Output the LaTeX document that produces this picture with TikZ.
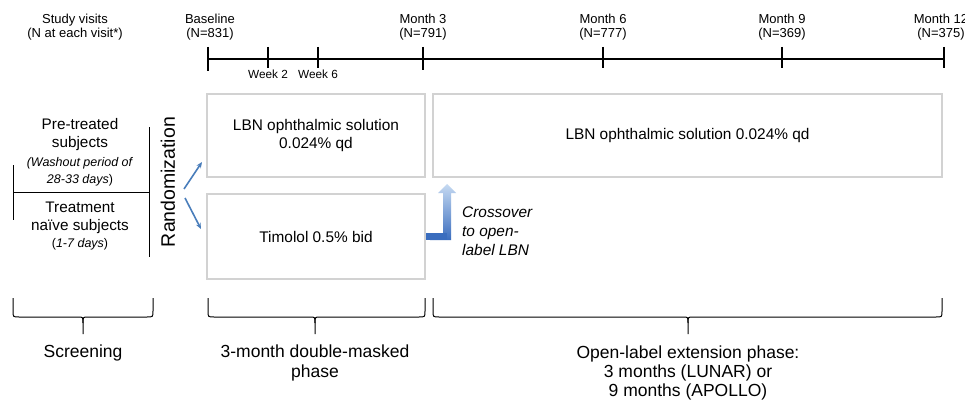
\documentclass[tikz,border=0pt]{standalone}
\usepackage{fontspec}
\setmainfont{Liberation Sans}
\usetikzlibrary{arrows.meta,calc}
\definecolor{boxgray}{HTML}{D2D2D2}
\definecolor{arrowblue}{HTML}{4A7EBB}
\definecolor{xlight}{HTML}{C6DAF2}
\definecolor{xdark}{HTML}{3A6DBE}
\newcommand{\phasebrace}[3]{%
  \draw[bracestyle] (#1,298) -- (#1,311) .. controls (#1,317) .. (#1+6,317) -- (#2-5,317) .. controls (#2,317) .. (#2,323) -- (#2,334);
  \draw[bracestyle] (#3,298) -- (#3,311) .. controls (#3,317) .. (#3-6,317) -- (#2+5,317) .. controls (#2,317) .. (#2,323);
}
\begin{document}
\begin{tikzpicture}[x=1pt,y=-1pt,
  tl/.style={font=\fontsize{13}{14.5}\selectfont,align=center,inner sep=0pt},
  wk/.style={font=\fontsize{11.8}{13}\selectfont,inner sep=0pt},
  armbox/.style={draw=boxgray,line width=2pt,inner sep=0pt,align=center,
    font=\fontsize{15.4}{18}\selectfont},
  lefttxt/.style={font=\fontsize{15.3}{18}\selectfont,align=center,inner sep=0pt},
  smalltxt/.style={font=\fontsize{12.5}{17}\selectfont,align=center,inner sep=0pt},
  phasetxt/.style={font=\fontsize{17.5}{20}\selectfont,align=center,inner sep=0pt},
  bracestyle/.style={line width=1pt,black},
  randarrow/.style={arrowblue,line width=1.6pt,-{Stealth[length=6pt,width=5pt]}},
  tick/.style={line width=1.1pt}]
\fill[white] (0,0) rectangle (965,401);
\useasboundingbox (0,0) rectangle (965,401);

% timeline labels
\node[tl] (visits) at (75,27) {Study visits\\(N at each visit*)};
\node[tl] (base) at (210,27) {Baseline\\(N=831)};
\node[tl] (m3) at (423,27) {Month 3\\(N=791)};
\node[tl] (m6) at (603,27) {Month 6\\(N=777)};
\node[tl] (m9) at (782,27) {Month 9\\(N=369)};
\node[tl] (m12) at (941,27) {Month 12\\(N=375)};

% timeline
\draw[tick] (208,59) -- (944,59);
\draw[tick] (208,47) -- (208,71);
\draw[tick] (268,47) -- (268,68);
\draw[tick] (318,47) -- (318,68);
\draw[tick] (423,47) -- (423,70);
\draw[tick] (603,47) -- (603,68);
\draw[tick] (782,47) -- (782,68);
\draw[tick] (944,47) -- (944,68);
\node[wk] (w2) at (268,74) {Week 2};
\node[wk] (w6) at (318,74) {Week 6};

% arm boxes
\node[armbox,minimum width=218pt,minimum height=83pt] (lbn) at (316,135.5)
  {LBN ophthalmic solution\\0.024\% qd};
\node[armbox,minimum width=218pt,minimum height=85pt] (tim) at (316,236.5)
  {Timolol 0.5\% bid};
\node[armbox,minimum width=509pt,minimum height=83pt] (ext) at (687.5,135.5)
  {LBN ophthalmic solution 0.024\% qd};

% left group
\node[lefttxt] (pre) at (80,134.5) {Pre-treated\\subjects};
\node[smalltxt] (wash) at (80,171.5) {\textit{(Washout period of}\\\textit{28-33 days})};
\node[lefttxt] (naive) at (80,217.5) {Treatment\\na\"ive subjects};
\node[smalltxt] (days) at (80,244) {(\textit{1-7 days})};
\draw[line width=1pt] (13,192) -- (149,192);
\draw[line width=1pt] (13,165) -- (13,220);
\draw[line width=1pt] (149,127) -- (149,257);

\node[rotate=90,font=\fontsize{19.5}{22}\selectfont,inner sep=0pt] (rand) at (168,182) {Randomization};

% randomization arrows
\coordinate (r1) at (184,189);
\coordinate (r2) at (185,198);
\draw[randarrow] (r1) -- ($(lbn.south west)+(-4,-16)$);
\draw[randarrow] (r2) -- ($(tim.west)+(-5,-7.5)$);

% crossover arrow
\shade[top color=xlight,bottom color=xdark]
  ($(tim.east)+(0,-3.5)$) -- ++(17,0) -- ++(0,-40) -- ++(-5,0) -- ++(9,-9)
  -- ++(9,9) -- ++(-5,0) -- ++(0,47) -- ++(-21,0) -- cycle;
\fill[xdark] ($(tim.east)+(0,-3.5)$) rectangle ++(21,7);
\node[font=\fontsize{15.4}{19}\selectfont\itshape,align=left,anchor=west,inner sep=0pt]
  (cross) at (462,231) {Crossover\\to open-\\label LBN};

% phase braces
\phasebrace{13}{83}{153}
\phasebrace{208}{315}{425}
\phasebrace{433}{688}{942}

\node[phasetxt] (scr) at (83,353) {Screening};
\node[phasetxt] (dm) at (315,363) {3-month double-masked\\phase};
\node[phasetxt,font=\fontsize{17.5}{19}\selectfont] (ol) at (688,373)
  {Open-label extension phase:\\3 months (LUNAR) or\\9 months (APOLLO)};
\end{tikzpicture}
\end{document}
